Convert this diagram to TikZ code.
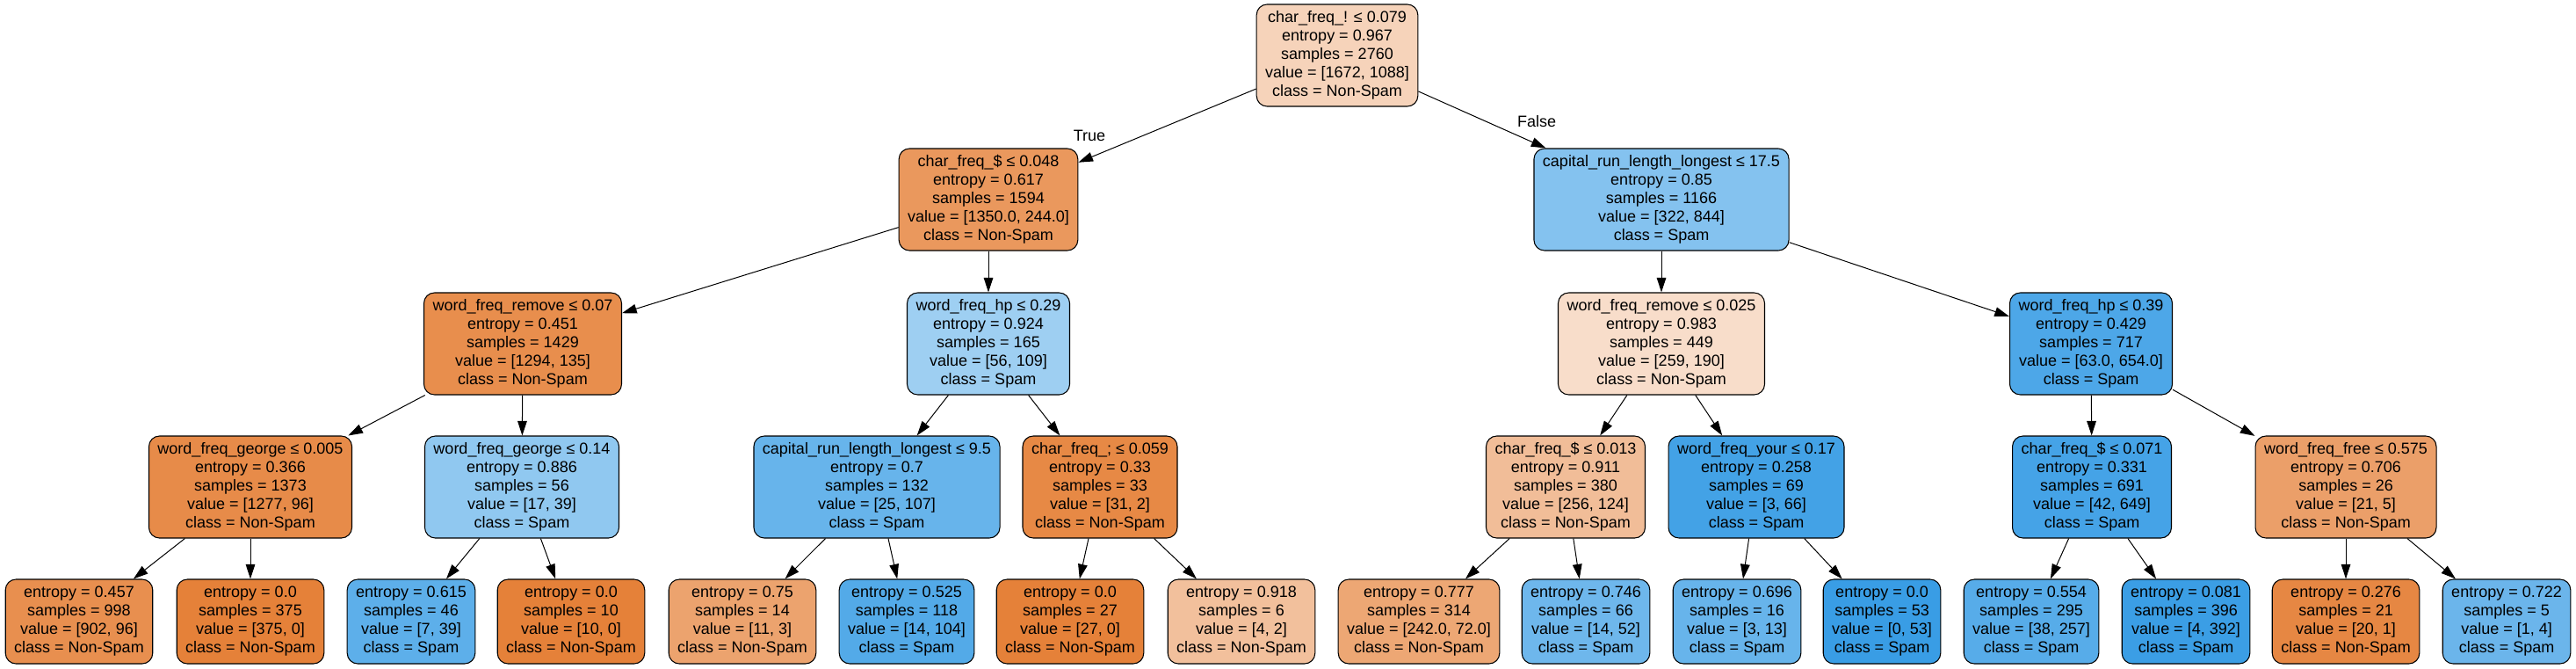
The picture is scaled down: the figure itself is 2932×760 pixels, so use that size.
\documentclass[tikz,border=0pt]{standalone}
\usepackage{fontspec}
\setmainfont{Liberation Sans}
\usepackage{xcolor}
\usepackage{tikz}
\usetikzlibrary{arrows.meta}
\definecolor{nonspam}{HTML}{E58139}
\definecolor{spam}{HTML}{399DE5}

\begin{document}
\begin{tikzpicture}[x=0.75pt, y=0.75pt,
  split/.style={fill=#1, draw=black, line width=0.8pt, rounded corners=9pt, minimum height=87pt, inner xsep=7.5pt, inner ysep=2pt, align=center, font=\fontsize{13.5}{15.75}\selectfont},
  leaf/.style={split=#1, minimum height=72pt},
  link/.style={-{Triangle[length=12.5pt,width=8pt]}, line width=0.75pt},
  branch/.style={font=\fontsize{13.5}{15.75}\selectfont}
]
  \useasboundingbox (0,0) rectangle (2932,-760);

  \node[split=nonspam!35] (root) at (1522,-63) {char\_freq\_! ≤ 0.079\\entropy = 0.967\\samples = 2760\\value = [1672, 1088]\\class = Non-Spam};

  \node[split=nonspam!82] (fdollar) at (1125,-227) {char\_freq\_\$ ≤ 0.048\\entropy = 0.617\\samples = 1594\\value = [1350.0, 244.0]\\class = Non-Spam};
  \node[split=spam!62] (caprun) at (1891,-227) {capital\_run\_length\_longest ≤ 17.5\\entropy = 0.85\\samples = 1166\\value = [322, 844]\\class = Spam};

  \node[split=nonspam!90] (remove) at (595,-391) {word\_freq\_remove ≤ 0.07\\entropy = 0.451\\samples = 1429\\value = [1294, 135]\\class = Non-Spam};
  \node[split=spam!49] (hp) at (1125,-391) {word\_freq\_hp ≤ 0.29\\entropy = 0.924\\samples = 165\\value = [56, 109]\\class = Spam};
  \node[split=nonspam!27] (removeb) at (1891,-391) {word\_freq\_remove ≤ 0.025\\entropy = 0.983\\samples = 449\\value = [259, 190]\\class = Non-Spam};
  \node[split=spam!90] (hpb) at (2380,-391) {word\_freq\_hp ≤ 0.39\\entropy = 0.429\\samples = 717\\value = [63.0, 654.0]\\class = Spam};

  \node[split=nonspam!92] (george) at (285,-554) {word\_freq\_george ≤ 0.005\\entropy = 0.366\\samples = 1373\\value = [1277, 96]\\class = Non-Spam};
  \node[split=spam!56] (georgeb) at (594,-554) {word\_freq\_george ≤ 0.14\\entropy = 0.886\\samples = 56\\value = [17, 39]\\class = Spam};
  \node[split=spam!77] (caprunb) at (998,-554) {capital\_run\_length\_longest ≤ 9.5\\entropy = 0.7\\samples = 132\\value = [25, 107]\\class = Spam};
  \node[split=nonspam!94] (semi) at (1252,-554) {char\_freq\_; ≤ 0.059\\entropy = 0.33\\samples = 33\\value = [31, 2]\\class = Non-Spam};
  \node[split=nonspam!52] (fdollarb) at (1782,-554) {char\_freq\_\$ ≤ 0.013\\entropy = 0.911\\samples = 380\\value = [256, 124]\\class = Non-Spam};
  \node[split=spam!95] (your) at (1999,-554) {word\_freq\_your ≤ 0.17\\entropy = 0.258\\samples = 69\\value = [3, 66]\\class = Spam};
  \node[split=spam!94] (fdollarc) at (2381,-554) {char\_freq\_\$ ≤ 0.071\\entropy = 0.331\\samples = 691\\value = [42, 649]\\class = Spam};
  \node[split=nonspam!76] (free) at (2670,-554) {word\_freq\_free ≤ 0.575\\entropy = 0.706\\samples = 26\\value = [21, 5]\\class = Non-Spam};

  \node[leaf=nonspam!89] (l1) at (90,-707) {entropy = 0.457\\samples = 998\\value = [902, 96]\\class = Non-Spam};
  \node[leaf=nonspam] (l2) at (285,-707) {entropy = 0.0\\samples = 375\\value = [375, 0]\\class = Non-Spam};
  \node[leaf=spam!82] (l3) at (468,-707) {entropy = 0.615\\samples = 46\\value = [7, 39]\\class = Spam};
  \node[leaf=nonspam] (l4) at (650,-707) {entropy = 0.0\\samples = 10\\value = [10, 0]\\class = Non-Spam};
  \node[leaf=nonspam!73] (l5) at (845,-707) {entropy = 0.75\\samples = 14\\value = [11, 3]\\class = Non-Spam};
  \node[leaf=spam!87] (l6) at (1032,-707) {entropy = 0.525\\samples = 118\\value = [14, 104]\\class = Spam};
  \node[leaf=nonspam] (l7) at (1218,-707) {entropy = 0.0\\samples = 27\\value = [27, 0]\\class = Non-Spam};
  \node[leaf=nonspam!50] (l8) at (1413,-707) {entropy = 0.918\\samples = 6\\value = [4, 2]\\class = Non-Spam};
  \node[leaf=nonspam!70] (l9) at (1615,-707) {entropy = 0.777\\samples = 314\\value = [242.0, 72.0]\\class = Non-Spam};
  \node[leaf=spam!73] (l10) at (1805,-707) {entropy = 0.746\\samples = 66\\value = [14, 52]\\class = Spam};
  \node[leaf=spam!77] (l11) at (1977,-707) {entropy = 0.696\\samples = 16\\value = [3, 13]\\class = Spam};
  \node[leaf=spam] (l12) at (2142,-707) {entropy = 0.0\\samples = 53\\value = [0, 53]\\class = Spam};
  \node[leaf=spam!85] (l13) at (2312,-707) {entropy = 0.554\\samples = 295\\value = [38, 257]\\class = Spam};
  \node[leaf=spam!99] (l14) at (2488,-707) {entropy = 0.081\\samples = 396\\value = [4, 392]\\class = Spam};
  \node[leaf=nonspam!95] (l15) at (2670,-707) {entropy = 0.276\\samples = 21\\value = [20, 1]\\class = Non-Spam};
  \node[leaf=spam!75] (l16) at (2853,-707) {entropy = 0.722\\samples = 5\\value = [1, 4]\\class = Spam};

  \node[branch] (true) at (1240,-154) {True};
  \node[branch] (false) at (1749,-138) {False};

  \draw[link] (root) -- (fdollar);
  \draw[link] (root) -- (caprun);
  \draw[link] (fdollar) -- (remove);
  \draw[link] (fdollar) -- (hp);
  \draw[link] (caprun) -- (removeb);
  \draw[link] (caprun) -- (hpb);
  \draw[link] (remove) -- (george);
  \draw[link] (remove) -- (georgeb);
  \draw[link] (hp) -- (caprunb);
  \draw[link] (hp) -- (semi);
  \draw[link] (removeb) -- (fdollarb);
  \draw[link] (removeb) -- (your);
  \draw[link] (hpb) -- (fdollarc);
  \draw[link] (hpb) -- (free);
  \draw[link] (george) -- (l1);
  \draw[link] (george) -- (l2);
  \draw[link] (georgeb) -- (l3);
  \draw[link] (georgeb) -- (l4);
  \draw[link] (caprunb) -- (l5);
  \draw[link] (caprunb) -- (l6);
  \draw[link] (semi) -- (l7);
  \draw[link] (semi) -- (l8);
  \draw[link] (fdollarb) -- (l9);
  \draw[link] (fdollarb) -- (l10);
  \draw[link] (your) -- (l11);
  \draw[link] (your) -- (l12);
  \draw[link] (fdollarc) -- (l13);
  \draw[link] (fdollarc) -- (l14);
  \draw[link] (free) -- (l15);
  \draw[link] (free) -- (l16);
\end{tikzpicture}
\end{document}
